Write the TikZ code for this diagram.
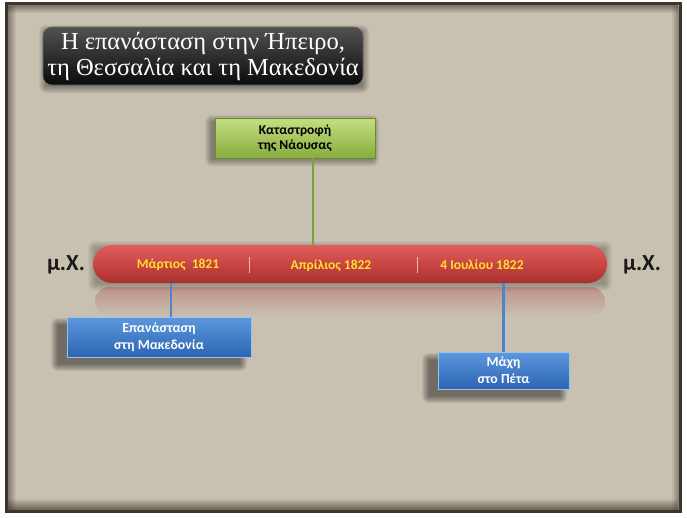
\documentclass[tikz,border=0pt]{standalone}
\usepackage{fontspec}
\setmainfont{Liberation Serif}
\newfontfamily\cf{Carlito}
\usetikzlibrary{fadings,calc}
\definecolor{paper}{HTML}{C8C0B0}
\definecolor{frameC}{HTML}{3E362C}
\definecolor{barTop}{HTML}{DE5E5B}
\definecolor{barMid}{HTML}{C94543}
\definecolor{barBot}{HTML}{A8302F}
\definecolor{grnTop}{HTML}{C6DE82}
\definecolor{grnBot}{HTML}{86AC3E}
\definecolor{bluTop}{HTML}{5C98DE}
\definecolor{bluBot}{HTML}{2C64B2}
\definecolor{yel}{HTML}{FFDF2E}
\definecolor{lineG}{HTML}{7AA23A}
\definecolor{lineB}{HTML}{4A86CC}
\newcommand{\softshade}[5]{% x1 y1 x2 y2 opacity
  \foreach \k in {0,...,7}{
    \fill[black, opacity=#5, rounded corners=\k pt] ($(#1,#2)+(-\k,-\k)$) rectangle ($(#3,#4)+(\k,\k)$);
  }}
\tikzset{
  titlebox/.style={rounded corners=9pt, top color=black!68, bottom color=black!96,
    draw=black!60, line width=0.6pt, minimum width=320pt, minimum height=58pt, inner sep=0pt,
    text=white, align=center, font=\fontsize{24.5}{26}\selectfont},
  greenbox/.style={top color=grnTop, bottom color=grnBot, draw=grnBot!80!black, line width=0.5pt,
    minimum width=160pt, minimum height=40pt, inner sep=0pt, align=center,
    font=\cf\bfseries\fontsize{13.5}{15}\selectfont, text=black},
  bluebox/.style={top color=bluTop, bottom color=bluBot, draw=bluTop!60!white, line width=0.6pt,
    inner sep=0pt, align=center, text=white, font=\cf\bfseries\fontsize{13.8}{17}\selectfont},
  timebar/.style={rounded corners=19pt, top color=barTop, bottom color=barBot, middle color=barMid,
    minimum width=514pt, minimum height=38pt, inner sep=0pt},
  datelabel/.style={text=yel, font=\cf\bfseries\fontsize{13.5}{15}\selectfont, inner sep=0pt},
  era/.style={font=\cf\bfseries\fontsize{23}{24}\selectfont, text=black!90, inner sep=0pt},
  sep/.style={draw=white!75!barTop, line width=1pt, opacity=0.8},
  conG/.style={draw=lineG, line width=2pt},
  conB/.style={draw=lineB, line width=2.2pt},
}
\begin{document}
\begin{tikzpicture}[x=1pt,y=-1pt]
\useasboundingbox (0,0) rectangle (687,517);
\fill[white] (0,0) rectangle (687,517);
% frame and paper
\fill[frameC] (5,2) rectangle (682,513);
\fill[paper] (8,5) rectangle (679,510);
\fill[frameC, path fading=south, opacity=0.55] (8,5) rectangle (679,13);
\fill[frameC, path fading=north, opacity=0.7] (8,498) rectangle (679,510);
\fill[frameC, path fading=east, opacity=0.5] (8,5) rectangle (16,510);
\fill[frameC, path fading=west, opacity=0.5] (671,5) rectangle (679,510);

% shadows
\softshade{46}{32}{362}{86}{0.05}
\softshade{212}{122}{372}{159}{0.05}
\softshade{58}{325}{240}{364}{0.065}
\softshade{429}{360}{560}{396}{0.065}
\softshade{95}{248}{605}{284}{0.03}

% title
\node[titlebox] (title) at (203,56) {Η επανάσταση στην Ήπειρο,\\τη Θεσσαλία και τη Μακεδονία};

% bar reflection
\fill[barBot, opacity=0.3, path fading=south, rounded corners=14pt] (95,287) rectangle (605,316);
% timeline bar
\node[timebar] (bar) at (350,264) {};
\draw[sep] (249,257) -- (249,273);
\draw[sep] (417,257) -- (417,273);
\node[datelabel] (d1) at (178,265) {Μάρτιος~ 1821};
\node[datelabel] (d2) at (331,266) {Απρίλιος 1822};
\node[datelabel] (d3) at (482,265) {4 Ιουλίου 1822};
\node[era] (eraL) at (66,265) {μ.Χ.};
\node[era] (eraR) at (642,265) {μ.Χ.};

% events
\node[greenbox] (naousa) at (295,138) {Καταστροφή\\της Νάουσας};
\node[bluebox, minimum width=184pt, minimum height=40pt] (maked) at (159,337) {Επανάσταση\\στη Μακεδονία};
\node[bluebox, minimum width=131pt, minimum height=37pt] (peta) at (503.5,370.5) {Μάχη\\στο Πέτα};

% connectors
\coordinate (gx) at (313,0);
\coordinate (bx) at (171,0);
\draw[conG] (naousa.south -| gx) -- (bar.north -| gx);
\draw[conB] (bar.south -| bx) -- (maked.north -| bx);
\draw[conB] (bar.south -| peta.north) -- (peta.north);
\end{tikzpicture}
\end{document}
